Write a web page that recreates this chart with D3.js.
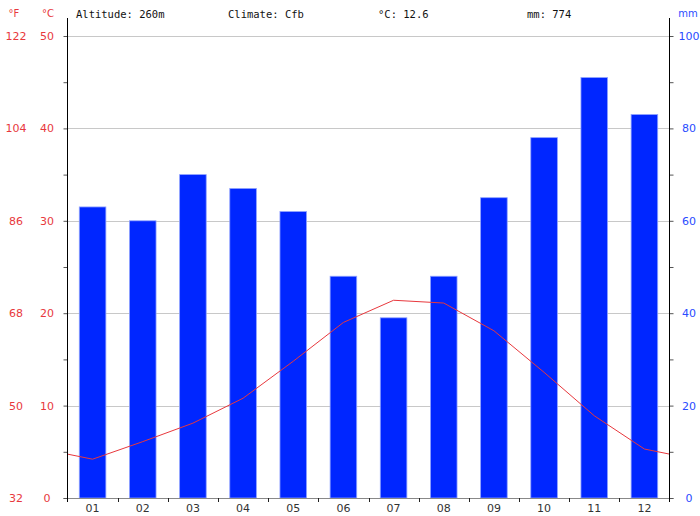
<!DOCTYPE html>
<html><head><meta charset="utf-8">
<script src="https://cdn.jsdelivr.net/npm/d3@7/dist/d3.min.js"></script>
<style>body{margin:0;background:#fff}svg{display:block}</style>
</head><body>
<script>
const months = ["01","02","03","04","05","06","07","08","09","10","11","12"];
const precipitation = [63,60,70,67,62,48,39,48,65,78,91,83];
const temperature = [4.2,6.1,8.1,10.8,14.8,19.0,21.4,21.1,18.1,13.6,8.9,5.3];
const celsiusTicks = [0,10,20,30,40,50];
const fahrenheitLabels = ["32","50","68","86","104","122"];
const mmTicks = [0,20,40,60,80,100];
const header = ["Altitude: 260m","Climate: Cfb","°C: 12.6","mm: 774"];

const W=700,H=516, L=67.5, R=669.5, T=36, B=498;
const red="#e8383d", blue="#2a4cff";
const svg=d3.select("body").append("svg").attr("width",W).attr("height",H);

const x=d3.scaleBand().domain(months).range([L,R]).paddingInner(0.47).paddingOuter(0.235);
const xb=d3.scaleBand().domain(months).range([L,R]);
const yT=d3.scaleLinear().domain([0,50]).range([B,T]);
const yP=d3.scaleLinear().domain([0,100]).range([B,T]);

// gridlines
svg.append("g").selectAll("line").data(celsiusTicks.filter(d=>d>0)).join("line")
  .attr("x1",L).attr("x2",R).attr("y1",d=>Math.round(yT(d))+0.5).attr("y2",d=>Math.round(yT(d))+0.5)
  .attr("stroke","#c8c8c8").attr("stroke-width",1);

// bars
svg.append("g").selectAll("rect").data(months).join("rect")
  .attr("x",d=>x(d)).attr("width",x.bandwidth())
  .attr("y",(d,i)=>yP(precipitation[i])).attr("height",(d,i)=>B-yP(precipitation[i]))
  .attr("fill","#0026ff").attr("stroke","#8fa2ff").attr("stroke-width",0.8);

// temperature line
const edge=(temperature[0]+temperature[11])/2;
const pts=[[L,edge]].concat(months.map((m,i)=>[x(m)+x.bandwidth()/2,temperature[i]])).concat([[R,edge]]);
svg.append("path").datum(pts)
  .attr("d",d3.line().x(d=>d[0]).y(d=>yT(d[1])))
  .attr("fill","none").attr("stroke",red).attr("stroke-width",1);

// bottom axis
svg.append("line").attr("x1",L-4).attr("x2",R+4).attr("y1",B+0.5).attr("y2",B+0.5).attr("stroke","#888");
const bx=d3.axisBottom(xb).tickSize(0).tickPadding(6);
const gb=svg.append("g").attr("transform",`translate(0,${B})`).call(bx);
gb.select(".domain").remove();
gb.selectAll("text").attr("font-family","DejaVu Sans").attr("font-size",11).attr("fill","#333");
svg.append("g").selectAll("line").data(months.slice(1)).join("line")
  .attr("x1",d=>Math.round(xb(d))+0.5).attr("x2",d=>Math.round(xb(d))+0.5).attr("y1",B).attr("y2",B+4)
  .attr("stroke","#222");

// left axis
const yl=d3.axisLeft(yT).tickValues(d3.range(0,51,5)).tickSize(4).tickFormat("");
const gl=svg.append("g").attr("transform",`translate(${L},0)`).call(yl);
gl.select(".domain").remove();
gl.selectAll("line").attr("stroke","#555");
svg.append("line").attr("x1",L).attr("x2",L).attr("y1",18).attr("y2",B+4).attr("stroke","#000");
// right axis
const yr=d3.axisRight(yP).tickValues(d3.range(0,101,10)).tickSize(4).tickFormat("");
const gr=svg.append("g").attr("transform",`translate(${R},0)`).call(yr);
gr.select(".domain").remove();
gr.selectAll("line").attr("stroke","#555");
svg.append("line").attr("x1",R).attr("x2",R).attr("y1",18).attr("y2",B+4).attr("stroke","#000");

// labels
const lab=svg.append("g").attr("font-family","DejaVu Sans").attr("font-size",11).attr("text-anchor","middle");
lab.selectAll(".c").data(celsiusTicks).join("text").attr("x",47).attr("y",d=>yT(d)+4).attr("fill",red).text(d=>d);
lab.selectAll(".f").data(celsiusTicks).join("text").attr("x",16).attr("y",d=>yT(d)+4).attr("fill",red).text((d,i)=>fahrenheitLabels[i]);
lab.selectAll(".p").data(mmTicks).join("text").attr("x",689).attr("y",d=>yP(d)+4).attr("fill",blue).text(d=>d);
lab.append("text").attr("x",14).attr("y",17).attr("fill",red).attr("font-size",10).text("°F");
lab.append("text").attr("x",48).attr("y",17).attr("fill",red).attr("font-size",10).text("°C");
lab.append("text").attr("x",688).attr("y",17).attr("fill",blue).attr("font-size",10).text("mm");

const hx=[76,228,378,527];
svg.append("g").attr("font-family","DejaVu Sans Mono").attr("font-size",10.5).attr("fill","#111")
  .selectAll("text").data(header).join("text").attr("x",(d,i)=>hx[i]).attr("y",18).text(d=>d);
</script>
</body></html>
